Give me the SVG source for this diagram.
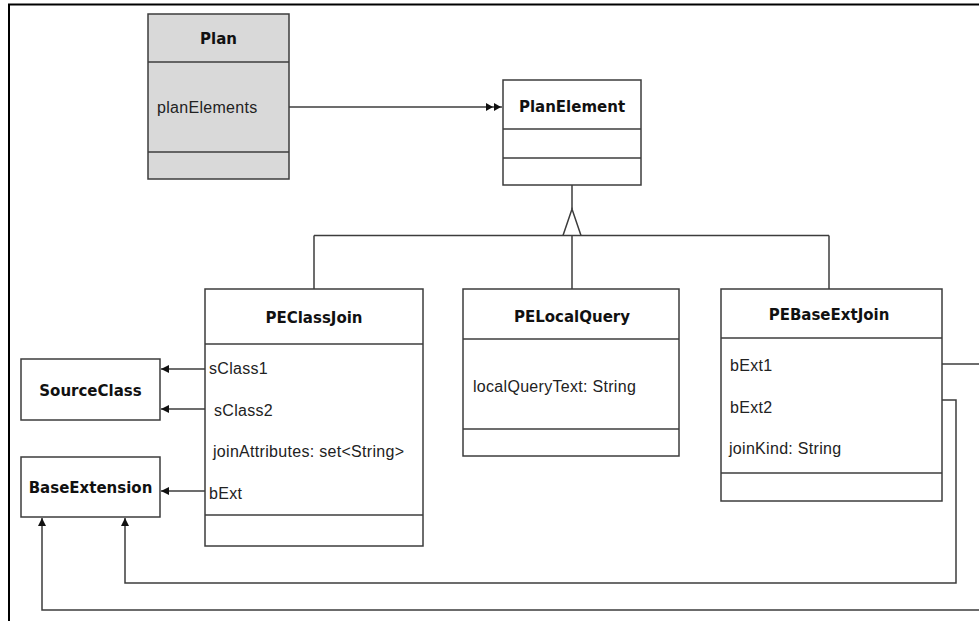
<svg xmlns="http://www.w3.org/2000/svg" width="979" height="621" viewBox="0 0 979 621">
  <style>
    .box { fill: #ffffff; stroke: #3c3c3c; stroke-width: 1.5; }
    .shaded { fill: #d9d9d9; }
    .sep { stroke: #3c3c3c; stroke-width: 1.5; fill: none; }
    .title { font-family: "DejaVu Sans", "Liberation Sans", sans-serif; font-weight: bold; font-size: 15px; fill: #111; text-anchor: middle; }
    .attr { font-family: "Liberation Sans", Arial, sans-serif; font-size: 16px; letter-spacing: 0.3px; fill: #222; }
    .link { stroke: #3c3c3c; stroke-width: 1.5; fill: none; }
    .frame { stroke: #000; stroke-width: 2; fill: none; }
  </style>
  <defs>
    <marker id="head" viewBox="0 0 8 8" refX="8" refY="4" markerWidth="8" markerHeight="8" markerUnits="userSpaceOnUse" orient="auto">
      <path d="M0,0 L8,4 L0,8 Z" fill="#111"/>
    </marker>
    <marker id="head2" viewBox="0 0 16 8" refX="16" refY="4" markerWidth="16" markerHeight="8" markerUnits="userSpaceOnUse" orient="auto">
      <path d="M0,0 L7,4 L0,8 Z M8,0 L15,4 L8,8 Z" fill="#111"/>
    </marker>
  </defs>

  <rect width="979" height="621" fill="#ffffff"/>
  <!-- page frame -->
  <path class="frame" d="M9,621 L9,4.5 L979,4.5"/>

  <g id="connectors">
    <!-- Plan.planElements -> PlanElement -->
    <line class="link" x1="289" y1="107" x2="502" y2="107" marker-end="url(#head2)"/>
    <!-- generalization tree -->
    <line class="link" x1="572" y1="185" x2="572" y2="209"/>
    <path class="link" d="M563,235.5 L572,209 L581,235.5"/>
    <line class="link" x1="314" y1="235.5" x2="829" y2="235.5"/>
    <line class="link" x1="314" y1="235.5" x2="314" y2="289"/>
    <line class="link" x1="572" y1="235.5" x2="572" y2="289"/>
    <line class="link" x1="829" y1="235.5" x2="829" y2="289"/>
    <!-- PEClassJoin associations -->
    <line class="link" x1="205" y1="369" x2="161" y2="369" marker-end="url(#head)"/>
    <line class="link" x1="205" y1="409" x2="161" y2="409" marker-end="url(#head)"/>
    <line class="link" x1="205" y1="491" x2="161" y2="491" marker-end="url(#head)"/>
    <!-- PEBaseExtJoin.bExt2 -> BaseExtension -->
    <path class="link" d="M942,400 L956,400 L956,583 L125,583 L125,518" marker-end="url(#head)"/>
    <!-- PEBaseExtJoin.bExt1 -> BaseExtension -->
    <path class="link" d="M942,364 L979,364"/>
    <path class="link" d="M979,610 L42,610 L42,518" marker-end="url(#head)"/>
  </g>

  <g id="Plan">
    <rect class="box shaded" x="148" y="14" width="141" height="165"/>
    <line class="sep" x1="148" y1="62" x2="289" y2="62"/>
    <line class="sep" x1="148" y1="152" x2="289" y2="152"/>
    <text class="title" x="218.5" y="44">Plan</text>
    <text class="attr" x="157" y="113">planElements</text>
  </g>

  <g id="PlanElement">
    <rect class="box" x="503" y="80" width="138" height="105"/>
    <line class="sep" x1="503" y1="129" x2="641" y2="129"/>
    <line class="sep" x1="503" y1="158" x2="641" y2="158"/>
    <text class="title" x="572" y="112">PlanElement</text>
  </g>

  <g id="PEClassJoin">
    <rect class="box" x="205" y="289" width="218" height="257"/>
    <line class="sep" x1="205" y1="344" x2="423" y2="344"/>
    <line class="sep" x1="205" y1="515" x2="423" y2="515"/>
    <text class="title" x="314" y="323">PEClassJoin</text>
    <text class="attr" x="209" y="374">sClass1</text>
    <text class="attr" x="214" y="416">sClass2</text>
    <text class="attr" x="213" y="457">joinAttributes: set&lt;String&gt;</text>
    <text class="attr" x="209" y="499">bExt</text>
  </g>

  <g id="PELocalQuery">
    <rect class="box" x="463" y="289" width="216" height="167"/>
    <line class="sep" x1="463" y1="339" x2="679" y2="339"/>
    <line class="sep" x1="463" y1="429" x2="679" y2="429"/>
    <text class="title" x="572" y="322">PELocalQuery</text>
    <text class="attr" x="473" y="392">localQueryText: String</text>
  </g>

  <g id="PEBaseExtJoin">
    <rect class="box" x="721" y="289" width="221" height="212"/>
    <line class="sep" x1="721" y1="338" x2="942" y2="338"/>
    <line class="sep" x1="721" y1="473" x2="942" y2="473"/>
    <text class="title" x="829" y="320">PEBaseExtJoin</text>
    <text class="attr" x="730" y="371">bExt1</text>
    <text class="attr" x="730" y="413">bExt2</text>
    <text class="attr" x="729" y="454">joinKind: String</text>
  </g>

  <g id="SourceClass">
    <rect class="box" x="21" y="359" width="139" height="61"/>
    <text class="title" x="90.5" y="396">SourceClass</text>
  </g>

  <g id="BaseExtension">
    <rect class="box" x="21" y="457" width="139" height="60"/>
    <text class="title" x="90.5" y="493">BaseExtension</text>
  </g>
</svg>
